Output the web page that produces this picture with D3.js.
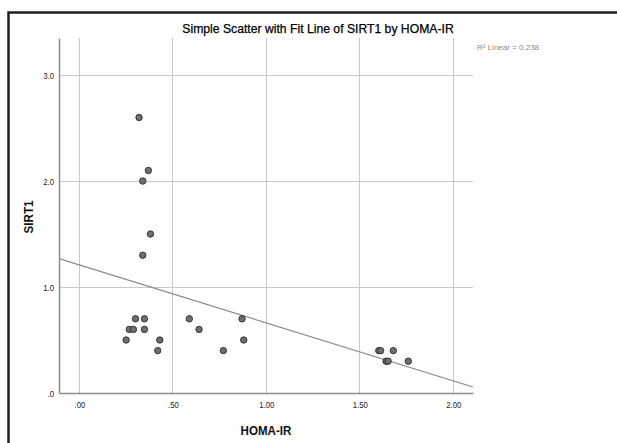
<!DOCTYPE html>
<html><head><meta charset="utf-8">
<script src="https://cdn.jsdelivr.net/npm/d3@7"></script>
<style>
html,body{margin:0;padding:0;background:#fff;}
svg{display:block;font-family:"Liberation Sans",Arial,sans-serif;}
</style></head>
<body><svg id="chart" width="617" height="443"></svg>
<script>
// HOMA-IR (x) values
const homaIR = [0.319,0.369,0.339,0.380,0.339,
                0.300,0.348,0.267,0.289,0.348,0.250,0.430,0.419,
                0.588,0.640,0.770,0.870,0.879,
                1.601,1.611,1.679,1.640,1.651,1.759];
// SIRT1 (y) values
const sirt1 = [2.6,2.1,2.0,1.5,1.3,
               0.7,0.7,0.6,0.6,0.6,0.5,0.5,0.4,
               0.7,0.6,0.4,0.7,0.5,
               0.4,0.4,0.4,0.3,0.3,0.3];
const xTicks = [0,0.5,1,1.5,2];
const yTicks = [0,1,2,3];
const xDomain = [-0.109, 2.105];
const yDomain = [0, 3.35];
const title = "Simple Scatter with Fit Line of SIRT1 by HOMA-IR";
const xLabel = "HOMA-IR", yLabel = "SIRT1";

const svg = d3.select("#chart");
const L=59, R=473, T=38, B=393;
const x = d3.scaleLinear().domain(xDomain).range([L,R]);
const y = d3.scaleLinear().domain(yDomain).range([B,T]);
const narrowScale = "scale(0.82,1)";
const labelScale = "scale(0.86,1)";

// frame
svg.append("path").attr("d","M8.5,443 V12.5 H617").attr("fill","none")
  .attr("stroke","#1e1e1e").attr("stroke-width",2.5);

// gridlines
const g = svg.append("g");
g.selectAll(".vg").data(xTicks).join("line")
  .attr("x1",d=>x(d)).attr("x2",d=>x(d)).attr("y1",T).attr("y2",B)
  .attr("stroke","#c8c8c8").attr("stroke-width",1).attr("shape-rendering","crispEdges");
g.selectAll(".hg").data(yTicks.filter(d=>d>0)).join("line")
  .attr("x1",L).attr("x2",R).attr("y1",d=>y(d)).attr("y2",d=>y(d))
  .attr("stroke","#c8c8c8").attr("stroke-width",1).attr("shape-rendering","crispEdges");

// axes
const xAxis = svg.append("g").attr("transform",`translate(0,${B})`)
  .call(d3.axisBottom(x).tickValues(xTicks).tickSize(0).tickPadding(8)
    .tickFormat(d=>d3.format(".2f")(d).replace(/^0/,"")));
const yAxis = svg.append("g").attr("transform",`translate(${L},0)`)
  .call(d3.axisLeft(y).tickValues(yTicks).tickSize(0).tickPadding(6)
    .tickFormat(d=>d3.format(".1f")(d).replace(/^0/,"")));
[xAxis,yAxis].forEach(a=>{
  a.select(".domain").attr("stroke","#8c8c8c").attr("stroke-width",1.5);
  a.selectAll("text").attr("font-size",9.5).attr("fill","#222")
   .attr("transform",narrowScale);
});

// regression
const n = homaIR.length;
const mx = d3.mean(homaIR), my = d3.mean(sirt1);
let sxy=0,sxx=0,syy=0;
for(let i=0;i<n;i++){sxy+=(homaIR[i]-mx)*(sirt1[i]-my);sxx+=(homaIR[i]-mx)**2;syy+=(sirt1[i]-my)**2;}
const slope = sxy/sxx, icpt = my - slope*mx, r2 = sxy*sxy/(sxx*syy);
svg.append("line")
  .attr("x1",x(xDomain[0])).attr("y1",y(icpt+slope*xDomain[0]))
  .attr("x2",x(xDomain[1])).attr("y2",y(icpt+slope*xDomain[1]))
  .attr("stroke","#8a8a8a").attr("stroke-width",1.2);

// points
svg.selectAll(".pt").data(homaIR.map((v,i)=>[v,sirt1[i]])).join("circle")
  .attr("cx",d=>x(d[0])).attr("cy",d=>y(d[1])).attr("r",3.2)
  .attr("fill","#6e6e6e").attr("stroke","#2a2a2a").attr("stroke-width",0.9);

// texts
svg.append("text").attr("x",318).attr("y",33).attr("text-anchor","middle")
  .attr("font-size",12.2).attr("fill","#000").attr("stroke","#000").attr("stroke-width",0.25)
  .text(title);
svg.append("text").attr("x",477).attr("y",50).attr("font-size",8)
  .attr("fill","#8a8a8a").text("R\u00B2 Linear = "+d3.format(".3f")(r2));
svg.append("text").attr("transform","translate(266,435) "+labelScale).attr("text-anchor","middle")
  .attr("font-size",13.5).attr("fill","#111").attr("font-weight","bold").text(xLabel);
svg.append("text").attr("transform","translate(33,217) rotate(-90) "+labelScale).attr("text-anchor","middle")
  .attr("font-size",13.5).attr("fill","#111").attr("font-weight","bold").text(yLabel);
</script></body></html>
